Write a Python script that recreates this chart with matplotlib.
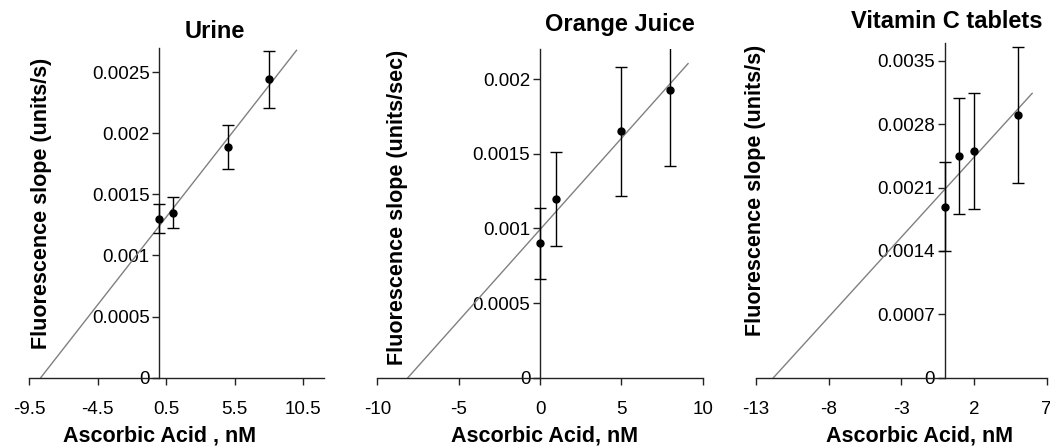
import numpy as np
import matplotlib.pyplot as plt

plt.rcParams['font.family'] = ['Liberation Sans', 'DejaVu Sans']

# data
titles = ["Urine", "Orange Juice", "Vitamin C tablets"]
ylabels = ["Fluorescence slope (units/s)", "Fluorescence slope (units/sec)",
           "Fluorescence slope (units/s)"]
xlabels = ["Ascorbic Acid , nM", "Ascorbic Acid, nM", "Ascorbic Acid, nM"]

urine_x = [0, 1, 5, 8]
urine_y = [0.00130, 0.00135, 0.00189, 0.00244]
urine_err = [0.00012, 0.000125, 0.00018, 0.00023]

oj_x = [0, 1, 5, 8]
oj_y = [0.00090, 0.00120, 0.00165, 0.00193]
oj_err = [0.000237, 0.000315, 0.00043, 0.00051]

vitc_x = [0, 1, 2, 5]
vitc_y = [0.00189, 0.00245, 0.00250, 0.00290]
vitc_err = [0.00049, 0.00064, 0.00064, 0.00075]

# trendline forward end (x)
trend_end = [10.0, 9.1, 6.0]

xlims = [(-9.5, 12), (-10, 10), (-13, 7)]
xticks = [[-9.5, -4.5, 0.5, 5.5, 10.5], [-10, -5, 0, 5, 10], [-13, -8, -3, 2, 7]]
ylims = [(0, 0.0027), (0, 0.0022), (0, 0.0037)]
yticks = [[0, 0.0005, 0.001, 0.0015, 0.002, 0.0025],
          [0, 0.0005, 0.001, 0.0015, 0.002],
          [0, 0.0007, 0.0014, 0.0021, 0.0028, 0.0035]]
ytick_labels = [["0", "0.0005", "0.001", "0.0015", "0.002", "0.0025"],
                ["0", "0.0005", "0.001", "0.0015", "0.002"],
                ["0", "0.0007", "0.0014", "0.0021", "0.0028", "0.0035"]]

W, H = 1050, 447
# axes boxes in pixels: left, right, top, bottom
boxes = [(29, 324, 47.7, 377.7), (377.3, 702.7, 49.3, 377.7), (756, 1046.7, 42.7, 377.7)]
title_pos = [(215, 32), (620, 25), (947, 22)]
xlabel_pos = [(160, 436), (545, 436), (920, 436)]
ylabel_pos = [(42, 203), (397, 207), (755, 190)]

fig = plt.figure(figsize=(W / 100, H / 100), dpi=100)
fig.patch.set_facecolor('white')

series = [(urine_x, urine_y, urine_err), (oj_x, oj_y, oj_err), (vitc_x, vitc_y, vitc_err)]

for i, (xs, ys, es) in enumerate(series):
    l, r, t, b = boxes[i]
    ax = fig.add_axes([l / W, 1 - b / H, (r - l) / W, (b - t) / H])
    ax.set_xlim(*xlims[i])
    ax.set_ylim(*ylims[i])

    # linear trendline, extended back to the x-intercept
    m, c = np.polyfit(xs, ys, 1)
    tx = np.array([-c / m, trend_end[i]])
    ax.plot(tx, m * tx + c, color='#808080', lw=1.0, zorder=2)

    ax.errorbar(xs, ys, yerr=es, fmt='o', color='black', ms=5, capsize=4,
                elinewidth=1.0, capthick=1.0, zorder=3)

    ax.spines['left'].set_position(('data', 0))
    ax.spines['top'].set_visible(False)
    ax.spines['right'].set_visible(False)
    for s in ['left', 'bottom']:
        ax.spines[s].set_color('#222222')
        ax.spines[s].set_linewidth(1.0)

    ax.set_xticks(xticks[i])
    ax.set_xticklabels([f"{v:g}" for v in xticks[i]])
    ax.set_yticks(yticks[i])
    ax.set_yticklabels(ytick_labels[i])
    ax.tick_params(axis='x', direction='out', length=5, width=1, pad=12,
                   labelsize=13.5, color='#222222')
    ax.tick_params(axis='y', direction='out', length=5, width=1, pad=2,
                   labelsize=13.5, color='#222222')
    ax.set_facecolor('none')

    fig.text(title_pos[i][0] / W, 1 - title_pos[i][1] / H, titles[i],
             ha='center', va='center', fontsize=17, fontweight='bold')
    fig.text(xlabel_pos[i][0] / W, 1 - xlabel_pos[i][1] / H, xlabels[i],
             ha='center', va='center', fontsize=15.5, fontweight='bold')
    fig.text(ylabel_pos[i][0] / W, 1 - ylabel_pos[i][1] / H, ylabels[i],
             ha='center', va='center', rotation=90, fontsize=15.5, fontweight='bold')

fig.savefig('out.png', dpi=100, facecolor='white')
